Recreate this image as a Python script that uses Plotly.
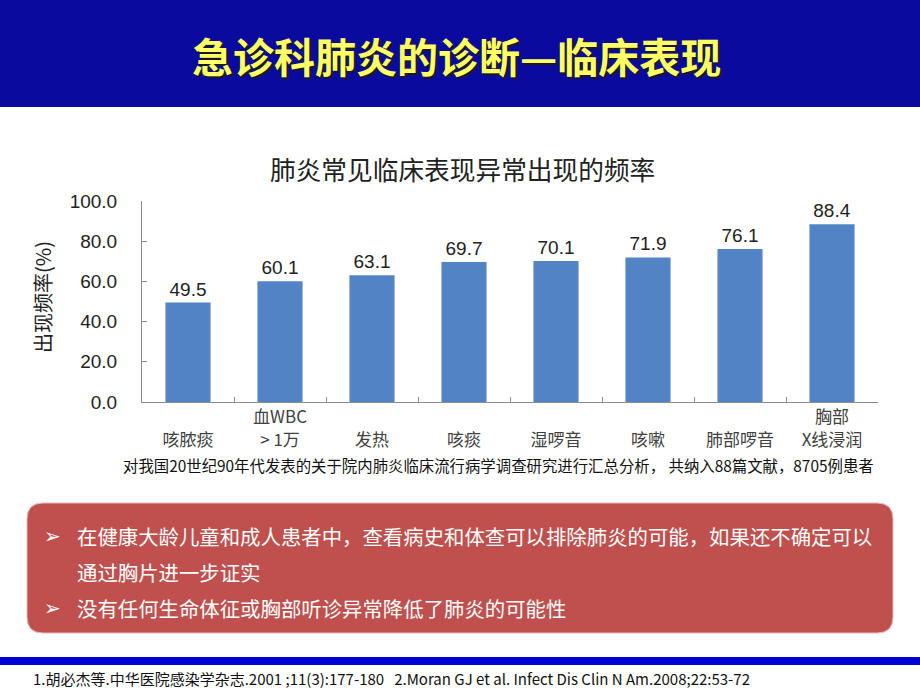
import plotly.graph_objects as go

W, H = 920, 690

categories = ["咳脓痰", "血WBC>1万", "发热", "咳痰", "湿啰音", "咳嗽", "肺部啰音", "胸部X线浸润"]
tick_labels = [" <br>咳脓痰", "血WBC<br>> 1万", " <br>发热", " <br>咳痰", " <br>湿啰音",
               " <br>咳嗽", " <br>肺部啰音", "胸部<br>X线浸润"]
values = [49.5, 60.1, 63.1, 69.7, 70.1, 71.9, 76.1, 88.4]
y_ticks = [0, 20, 40, 60, 80, 100]

page_title = "急诊科肺炎的诊断—临床表现"
chart_title = "肺炎常见临床表现异常出现的频率"
y_title = "出现频率(%)"
note = "对我国20世纪90年代发表的关于院内肺炎临床流行病学调查研究进行汇总分析， 共纳入88篇文献，8705例患者"
bullets = [
    ("➢", "在健康大龄儿童和成人患者中，查看病史和体查可以排除肺炎的可能，如果还不确定可以"),
    ("", "通过胸片进一步证实"),
    ("➢", "没有任何生命体征或胸部听诊异常降低了肺炎的可能性"),
]
footer = "1.胡必杰等.中华医院感染学杂志.2001 ;11(3):177-180   2.Moran GJ et al. Infect Dis Clin N Am.2008;22:53-72"

CJK = "Noto Sans CJK SC"
LAT = "Liberation Sans, Arial"


def px(x):
    return x / W


def py(y):
    return 1 - y / H


def rounded_rect(x0, y0, x1, y1, r):
    return (f"M {px(x0 + r)} {py(y0)} L {px(x1 - r)} {py(y0)} "
            f"Q {px(x1)} {py(y0)} {px(x1)} {py(y0 + r)} "
            f"L {px(x1)} {py(y1 - r)} Q {px(x1)} {py(y1)} {px(x1 - r)} {py(y1)} "
            f"L {px(x0 + r)} {py(y1)} Q {px(x0)} {py(y1)} {px(x0)} {py(y1 - r)} "
            f"L {px(x0)} {py(y0 + r)} Q {px(x0)} {py(y0)} {px(x0 + r)} {py(y0)} Z")


fig = go.Figure()
fig.add_bar(
    x=categories, y=values,
    text=[f"{v:.1f}" for v in values], textposition="outside",
    textfont=dict(size=19, color="#222222", family=LAT),
    marker=dict(color="#5283C4", line=dict(width=0)),
    width=0.49, cliponaxis=False,
)

fig.update_layout(
    width=W, height=H, margin=dict(l=0, r=0, t=0, b=0),
    paper_bgcolor="white", plot_bgcolor="white", showlegend=False,
    font=dict(family=CJK),
    xaxis=dict(
        domain=[142 / W, 878 / W], type="category",
        tickvals=categories, ticktext=tick_labels,
        showline=True, linecolor="#8c8c8c", linewidth=1,
        ticks="inside", tickson="boundaries", ticklen=5, tickcolor="#8c8c8c",
        tickfont=dict(size=17, color="#404040", family=CJK),
        showgrid=False, fixedrange=True, automargin=False,
    ),
    yaxis=dict(
        domain=[py(402), py(201)], range=[0, 100],
        tickvals=y_ticks, tickformat=".1f",
        showline=True, linecolor="#8c8c8c", linewidth=1,
        ticks="inside", ticklen=5, tickcolor="#8c8c8c",
        tickfont=dict(size=19, color="#222222", family=LAT),
        ticklabelstandoff=20,
        showgrid=False, zeroline=False, fixedrange=True, automargin=False,
    ),
)

shapes = [
    dict(type="rect", xref="paper", yref="paper", x0=0, x1=1, y0=py(107), y1=1,
         fillcolor="#0a0a9e", line=dict(width=0), layer="below"),
    dict(type="path", xref="paper", yref="paper", path=rounded_rect(27, 503, 893, 633, 16),
         fillcolor="#C0504D", line=dict(color="#e8b8b6", width=1), layer="below"),
    dict(type="rect", xref="paper", yref="paper", x0=0, x1=1, y0=py(665), y1=py(657),
         fillcolor="#0000d4", line=dict(width=0), layer="below"),
]
fig.update_layout(shapes=shapes)

ann = []
ann.append(dict(text=f"<b>{page_title}</b>", x=px(456 + 2), y=py(55 + 2), xref="paper", yref="paper",
                showarrow=False, font=dict(size=41, color="#1a1a1a", family=CJK),
                xanchor="center", yanchor="middle"))
ann.append(dict(text=f"<b>{page_title}</b>", x=px(456), y=py(55), xref="paper", yref="paper",
                showarrow=False, font=dict(size=41, color="#FFFF66", family=CJK),
                xanchor="center", yanchor="middle"))
ann.append(dict(text=chart_title, x=px(462), y=py(168), xref="paper", yref="paper",
                showarrow=False, font=dict(size=25.7, color="#222222", family=CJK),
                xanchor="center", yanchor="middle"))
ann.append(dict(text=y_title, x=px(43), y=py(297), xref="paper", yref="paper", textangle=-90,
                showarrow=False, font=dict(size=20, color="#222222", family=CJK),
                xanchor="center", yanchor="middle"))
ann.append(dict(text=note, x=px(498), y=py(465), xref="paper", yref="paper",
                showarrow=False, font=dict(size=15.4, color="#111111", family=CJK),
                xanchor="center", yanchor="middle"))
line_y = [536, 572, 608]
for (b, t), yy in zip(bullets, line_y):
    if b:
        ann.append(dict(text=b, x=px(52), y=py(yy), xref="paper", yref="paper",
                        showarrow=False, font=dict(size=20, color="white", family="DejaVu Sans"),
                        xanchor="center", yanchor="middle"))
    ann.append(dict(text=t, x=px(75), y=py(yy), xref="paper", yref="paper",
                    showarrow=False, font=dict(size=20.4, color="white", family=CJK),
                    xanchor="left", yanchor="middle"))
ann.append(dict(text=footer, x=px(31), y=py(678), xref="paper", yref="paper",
                showarrow=False, font=dict(size=15, color="#111111", family=CJK),
                xanchor="left", yanchor="middle"))
fig.update_layout(annotations=ann)

post = ("var h=document.documentElement,b=document.body;"
        "h.style.margin='0';h.style.padding='0';h.style.overflow='hidden';"
        "h.style.width='920px';h.style.height='690px';"
        "b.style.margin='0';b.style.padding='0';b.style.overflow='hidden';"
        "b.style.width='920px';b.style.height='690px';"
        "var d=document.getElementById('{plot_id}');"
        "d.style.position='fixed';d.style.top='0';d.style.left='0';")
fig.write_html("out.html", config={"displayModeBar": False}, post_script=post)
